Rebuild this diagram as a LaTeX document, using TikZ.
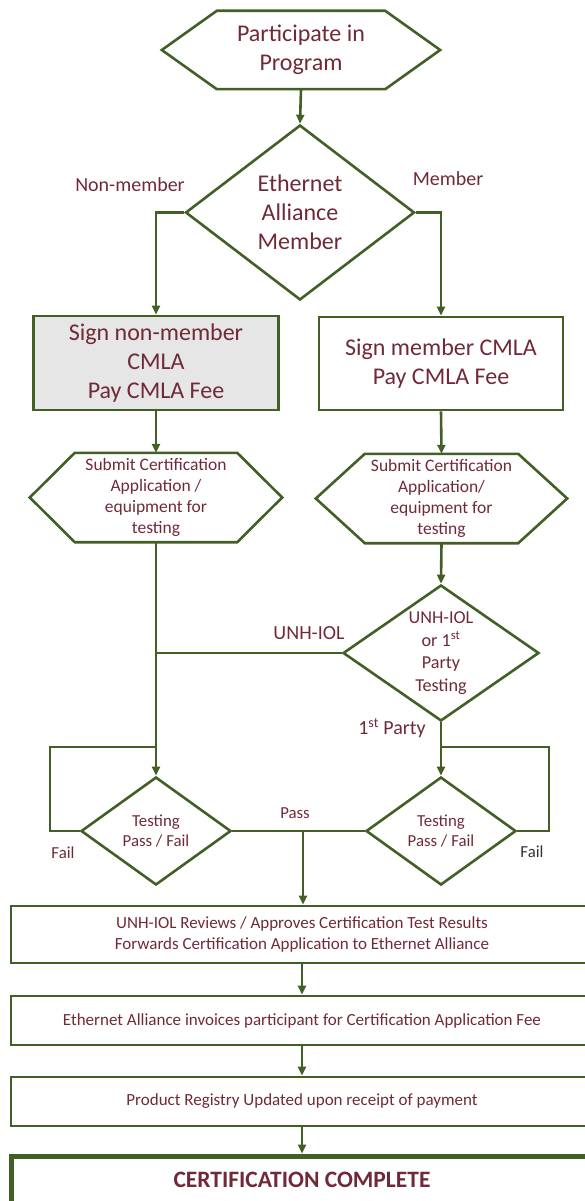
\documentclass[tikz,border=0pt]{standalone}
\usepackage{fontspec}
\setmainfont{Carlito}
\usetikzlibrary{shapes.geometric,arrows.meta,calc}
\definecolor{lg}{RGB}{66,96,38}
\definecolor{tx}{RGB}{112,42,55}
\definecolor{boxgray}{RGB}{230,230,230}
\newcommand\myhex[2]{\draw[ln] (#1.west) -- ($(#1.north west)+(#2,0)$) -- ($(#1.north east)+(-#2,0)$) -- (#1.east) -- ($(#1.south east)+(-#2,0)$) -- ($(#1.south west)+(#2,0)$) -- cycle;}
\begin{document}
\begin{tikzpicture}[x=1pt,y=-1pt,
  ln/.style={draw=lg,line width=2.6pt,line join=miter},
  arr/.style={draw=lg,line width=2.6pt,-{Triangle[length=9pt,width=8pt]}},
  txt/.style={text=tx,align=center,inner sep=0pt},
  shp/.style={txt,draw=lg,line width=2.6pt},
  dia/.style={shp,diamond},
  hexbox/.style={txt,draw=none,rectangle},
  fbig/.style={font=\fontsize{24}{29}\selectfont},
  fmid/.style={font=\fontsize{20}{24}\selectfont},
  fsm/.style={font=\fontsize{17.5}{21}\selectfont},
  ftest/.style={font=\fontsize{16.8}{20}\selectfont},
  fbot/.style={font=\fontsize{17}{20.5}\selectfont},
  wide/.style={shp,rectangle,minimum width=582pt}
]
\useasboundingbox (0,0) rectangle (585,1201);
\clip (0,0) rectangle (585,1201);

% top hexagon
\node[hexbox,fbig,minimum width=278pt,minimum height=78pt] (start) at (301,50) {Participate in\\Program};
\myhex{start}{55}

% membership diamond
\node[dia,fbig,aspect=1.31,minimum width=229pt,minimum height=175pt] (mem) at (300,212.5) {Ethernet\\Alliance\\Member};

% CMLA boxes
\node[shp,rectangle,fbig,fill=boxgray,minimum width=245pt,minimum height=94pt] (nonm) at (156,363) {Sign non-member\\CMLA\\Pay CMLA Fee};
\node[shp,rectangle,fbig,minimum width=244pt,minimum height=93pt] (memb) at (441,363.5) {Sign member CMLA\\Pay CMLA Fee};

% submit hexagons
\node[hexbox,fsm,minimum width=252pt,minimum height=89pt] (subL) at (156,497.5) {Submit Certification\\Application /\\equipment for\\testing};
\myhex{subL}{45}
\node[hexbox,fsm,minimum width=251pt,minimum height=89pt] (subR) at (441.5,498.5) {Submit Certification\\Application/\\equipment for\\testing};
\myhex{subR}{49}

% lab choice diamond
\node[dia,font=\fontsize{18.2}{22.5}\selectfont,aspect=1.44,minimum width=196pt,minimum height=136pt] (lab) at (441,653) {UNH-IOL\\or 1\textsuperscript{st}\\Party\\Testing};

% testing diamonds
\node[dia,ftest,aspect=1.39,minimum width=150pt,minimum height=108pt] (tL) at (156,831) {Testing\\Pass / Fail};
\node[dia,ftest,aspect=1.39,minimum width=150pt,minimum height=108pt] (tR) at (441,831) {Testing\\Pass / Fail};

% bottom boxes
\node[wide,fbot,minimum height=57pt] (rev) at (302,934.5) {UNH-IOL Reviews / Approves Certification Test Results\\Forwards Certification Application to Ethernet Alliance};
\node[wide,fbot,minimum height=49pt] (inv) at (302,1020.5) {Ethernet Alliance invoices participant for Certification Application Fee};
\node[wide,fbot,minimum height=49pt] (reg) at (302,1101.5) {Product Registry Updated upon receipt of payment};
\node[wide,line width=5pt,font=\fontsize{23.5}{28}\selectfont\bfseries,minimum height=48pt,text depth=0pt] (done) at (302,1180) {CERTIFICATION COMPLETE};

% labels
\node[txt,fmid] (lnon) at (130,185) {Non-member};
\node[txt,fmid] (lmem) at (448,179) {Member};
\node[txt,fmid] (lunh) at (309,633) {UNH-IOL};
\node[txt,fmid] (lfirst) at (392,728) {1\textsuperscript{st} Party};
\node[txt,ftest] (lpass) at (295,813) {Pass};
\node[txt,ftest] (lfailL) at (63,853) {Fail};
\node[txt,ftest,text=black!80] (lfailR) at (532,852) {Fail};

% coordinates
\coordinate (fl) at (50,747);
\coordinate (fr) at (549,747);
\coordinate (pj) at (303,831);

% connectors
\draw[arr] (start.south) -- (mem.north);
\draw[arr] (mem.west) -| (nonm.north);
\draw[arr] (mem.east) -| (memb.north);
\draw[arr] (nonm.south) -- (subL.north);
\draw[arr] (memb.south) -- (subR.north);
\draw[arr] (subR.south) -- (lab.north);
\draw[arr] (subL.south) -- (tL.north);
\draw[ln] (lab.west) -- (subL.south |- lab.west);
\draw[arr] (lab.south) -- (tR.north);
\draw[ln] (tL.west) -| (fl) -- (tL.north |- fl);
\draw[ln] (tR.east) -| (fr) -- (tR.north |- fr);
\draw[ln] (tL.east) -- (tR.west);
\draw[arr] (pj) -- (pj |- rev.north);
\draw[arr] (rev.south) -- (inv.north);
\draw[arr] (inv.south) -- (reg.north);
\draw[arr] (reg.south) -- (done.north);
\end{tikzpicture}
\end{document}
